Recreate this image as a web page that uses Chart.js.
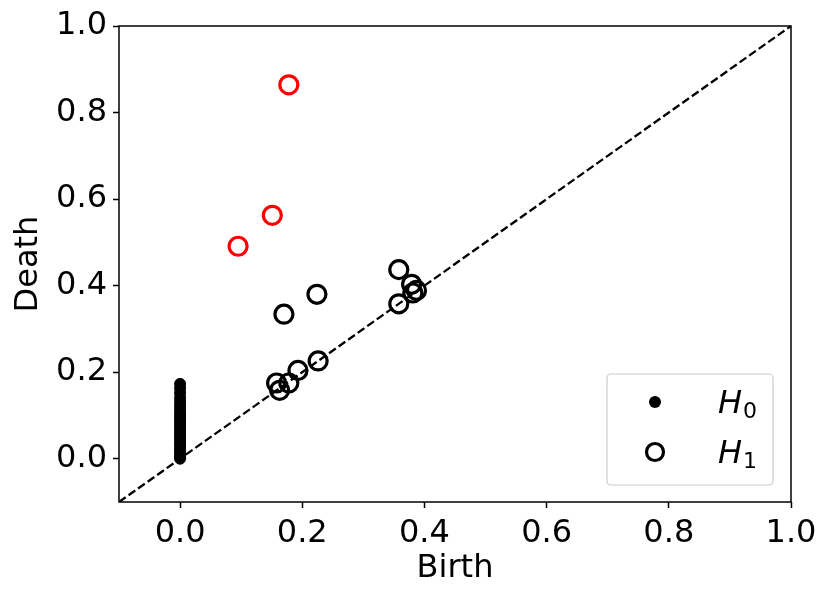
<!DOCTYPE html>
<html>
<head>
<meta charset="utf-8">
<script src="https://cdn.jsdelivr.net/npm/chart.js@4.4.1/dist/chart.umd.min.js"></script>
<style>
  html, body { margin: 0; padding: 0; background: #fff; }
  #wrap { width: 831px; height: 600px; }
</style>
</head>
<body>
<div id="wrap"><canvas id="pdChart" width="831" height="600"></canvas></div>
<script>
/* Data */
const axisMin = -0.1;
const axisMax = 1.0;
const tickValues = [0.0, 0.2, 0.4, 0.6, 0.8, 1.0];

// H0 : all born at 0
const h0Birth = [0, 0, 0, 0, 0, 0, 0, 0, 0, 0, 0, 0, 0, 0, 0, 0, 0, 0, 0, 0, 0, 0, 0, 0, 0, 0];
const h0Death = [0.0, 0.004, 0.009, 0.014, 0.019, 0.025, 0.031, 0.036, 0.042, 0.048, 0.054, 0.06,
                 0.066, 0.073, 0.08, 0.087, 0.094, 0.101, 0.108, 0.116, 0.124, 0.132, 0.141, 0.152, 0.163, 0.173];

// H1 near the diagonal
const h1Birth = [0.158, 0.163, 0.178, 0.193, 0.226, 0.170, 0.224, 0.358, 0.379, 0.387, 0.381, 0.358];
const h1Death = [0.175, 0.158, 0.175, 0.204, 0.226, 0.334, 0.380, 0.437, 0.403, 0.389, 0.383, 0.358];

// H1 significant (red)
const h1SigBirth = [0.178, 0.151, 0.095];
const h1SigDeath = [0.864, 0.5625, 0.491];

const legendLabels = [
  { base: 'H', sub: '0' },
  { base: 'H', sub: '1' }
];

function toPoints(xs, ys) {
  return xs.map((x, i) => ({ x: x, y: ys[i] }));
}

const FONT = 'DejaVu Sans';

// frame on all four sides, like matplotlib spines
const framePlugin = {
  id: 'frame',
  afterDatasetsDraw(chart) {
    const { ctx, chartArea: a } = chart;
    ctx.save();
    ctx.strokeStyle = '#000';
    ctx.lineWidth = 1.5;
    ctx.strokeRect(a.left, a.top, a.right - a.left, a.bottom - a.top);
    ctx.restore();
  }
};

// legend box with subscripts
const legendPlugin = {
  id: 'mathLegend',
  afterDraw(chart) {
    const { ctx, chartArea: a } = chart;
    const right = a.right - 18, bottom = a.bottom - 17;
    const w = 166, h = 111;
    const left = right - w, top = bottom - h;
    ctx.save();
    ctx.beginPath();
    ctx.roundRect(left, top, w, h, 4);
    ctx.fillStyle = 'rgba(255,255,255,0.8)';
    ctx.fill();
    ctx.strokeStyle = '#cccccc';
    ctx.lineWidth = 1.2;
    ctx.stroke();

    const markerX = left + 48;
    const rows = [top + 28, top + 78];
    // H0 dot
    ctx.beginPath();
    ctx.arc(markerX, rows[0], 6, 0, Math.PI * 2);
    ctx.fillStyle = '#000';
    ctx.fill();
    // H1 ring
    ctx.beginPath();
    ctx.arc(markerX, rows[1], 8.5, 0, Math.PI * 2);
    ctx.strokeStyle = '#000';
    ctx.lineWidth = 3.2;
    ctx.stroke();

    ctx.fillStyle = '#000';
    ctx.textBaseline = 'alphabetic';
    ctx.textAlign = 'left';
    legendLabels.forEach((lab, i) => {
      const tx = left + 111;
      const by = rows[i] + 11;
      ctx.font = 'italic 32px "' + FONT + '"';
      ctx.fillText(lab.base, tx, by);
      const hw = ctx.measureText(lab.base).width;
      ctx.font = '22px "' + FONT + '"';
      ctx.fillText(lab.sub, tx + hw + 1, by + 5);
    });
    ctx.restore();
  }
};

function axisOptions(titleText, titlePad) {
  return {
    type: 'linear',
    min: axisMin,
    max: axisMax,
    afterBuildTicks: (scale) => {
      scale.ticks = tickValues.map(v => ({ value: v }));
    },
    ticks: {
      color: '#000',
      padding: 6,
      font: { family: FONT, size: 32 },
      callback: (v) => Number(v).toFixed(1)
    },
    grid: {
      display: true,
      drawOnChartArea: false,
      drawTicks: true,
      tickLength: 6,
      tickWidth: 1.5,
      tickColor: '#000'
    },
    border: { display: false },
    title: {
      display: true,
      text: titleText,
      color: '#000',
      font: { family: FONT, size: 32 },
      padding: titlePad
    }
  };
}

const xOpts = axisOptions('Birth', { top: 0, bottom: 12 });
xOpts.afterFit = (scale) => { scale.height = 98; };
const yOpts = axisOptions('Death', { top: 9, bottom: 0 });
yOpts.afterFit = (scale) => { scale.width = 119; };

const ctxPd = document.getElementById('pdChart').getContext('2d');
const pdChart = new Chart(ctxPd, {
  type: 'scatter',
  data: {
    datasets: [
      {
        label: 'H0',
        data: toPoints(h0Birth, h0Death),
        pointStyle: 'circle',
        pointRadius: 5.5,
        pointBorderWidth: 1,
        backgroundColor: '#000',
        borderColor: '#000',
        order: 1
      },
      {
        label: 'H1',
        data: toPoints(h1Birth, h1Death),
        pointStyle: 'circle',
        pointRadius: 9,
        pointBorderWidth: 3.2,
        backgroundColor: 'rgba(0,0,0,0)',
        borderColor: '#000',
        order: 1
      },
      {
        label: 'H1 significant',
        data: toPoints(h1SigBirth, h1SigDeath),
        pointStyle: 'circle',
        pointRadius: 9,
        pointBorderWidth: 3.2,
        backgroundColor: 'rgba(0,0,0,0)',
        borderColor: '#ff0000',
        order: 1
      },
      {
        type: 'line',
        label: 'diagonal',
        data: [{ x: axisMin, y: axisMin }, { x: axisMax, y: axisMax }],
        borderColor: '#000',
        borderWidth: 2.3,
        borderDash: [8.2, 3.5],
        pointRadius: 0,
        fill: false,
        order: 5
      }
    ]
  },
  options: {
    responsive: false,
    animation: false,
    layout: { padding: { left: 0, top: 26, right: 40, bottom: 0 } },
    plugins: {
      legend: { display: false },
      tooltip: { enabled: false }
    },
    scales: {
      x: xOpts,
      y: yOpts
    }
  },
  plugins: [framePlugin, legendPlugin]
});
</script>
</body>
</html>
